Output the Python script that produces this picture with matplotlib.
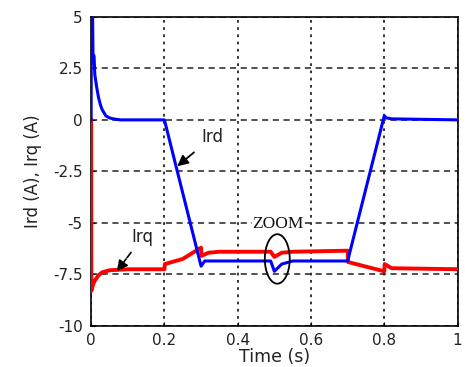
import matplotlib.pyplot as plt
from matplotlib.patches import Ellipse

# Ird (blue) key points
ird_t = [0.0, 0.0005, 0.004, 0.005, 0.008, 0.010, 0.015, 0.020, 0.025, 0.030,
         0.035, 0.040, 0.050, 0.060, 0.080, 0.200, 0.300, 0.310, 0.490, 0.500,
         0.520, 0.550, 0.700, 0.800, 0.805, 0.820, 1.000]
ird_v = [0.0, 5.0, 5.0, 3.2, 3.1, 2.2, 1.6, 1.1, 0.75, 0.5,
         0.35, 0.2, 0.1, 0.05, 0.0, 0.0, -7.1, -6.85, -6.85, -7.35,
         -7.0, -6.85, -6.85, 0.2, 0.1, 0.05, 0.0]

# Irq (red) key points
irq_t = [0.0, 0.0005, 0.005, 0.010, 0.020, 0.030, 0.050, 0.100, 0.200, 0.201,
         0.250, 0.300, 0.301, 0.320, 0.350, 0.490, 0.500, 0.520, 0.550, 0.700,
         0.701, 0.800, 0.801, 0.820, 1.000]
irq_v = [0.0, -8.3, -8.0, -7.8, -7.55, -7.4, -7.3, -7.25, -7.25, -7.0,
         -6.75, -6.2, -6.6, -6.45, -6.4, -6.4, -6.65, -6.45, -6.4, -6.35,
         -6.9, -7.35, -7.0, -7.2, -7.25]

xticks = [0, 0.2, 0.4, 0.6, 0.8, 1]
xtick_labels = ['0', '0.2', '0.4', '0.6', '0.8', '1']
yticks = [-10, -7.5, -5, -2.5, 0, 2.5, 5]
ytick_labels = ['-10', '-7.5', '-5', '-2.5', '0', '2.5', '5']

plt.rcParams['font.family'] = ['DejaVu Sans']

fig = plt.figure(figsize=(4.65, 3.67), dpi=100)
ax = fig.add_axes([0.196, 0.112, 0.788, 0.842])

ax.plot(irq_t, irq_v, color='#ff0000', linewidth=2.8, zorder=3)
ax.plot(ird_t, ird_v, color='#0000ff', linewidth=2.2, zorder=4)

ax.set_xlim(0, 1)
ax.set_ylim(-10, 5)
ax.set_xticks(xticks)
ax.set_xticklabels(xtick_labels)
ax.set_yticks(yticks)
ax.set_yticklabels(ytick_labels)
ax.tick_params(direction='in', length=3, labelsize=11, color='black',
               labelcolor='#222222')
ax.tick_params(axis='y', pad=6)
ax.tick_params(axis='x', pad=5)

# vertical grid dotted, horizontal grid dashed
ax.xaxis.grid(True, linestyle=(0, (1.5, 2.5)), color='#222222', linewidth=1.3)
ax.yaxis.grid(True, linestyle=(0, (4, 3)), color='#222222', linewidth=1.1)
ax.set_axisbelow(True)

for s in ax.spines.values():
    s.set_linewidth(1.2)
    s.set_color('black')

ax.set_xlabel('Time (s)', fontsize=12.5, labelpad=0, color='#222222')
ax.set_ylabel('Ird (A), Irq (A)', fontsize=12, labelpad=8, color='#222222')

# annotations
ax.annotate('Ird', xy=(0.235, -2.25), xytext=(0.30, -0.85), fontsize=12,
            va='center', ha='left', color='#222222',
            arrowprops=dict(arrowstyle='-|>', color='black', lw=1.3,
                            shrinkA=4, shrinkB=0, mutation_scale=16))
ax.annotate('Irq', xy=(0.07, -7.35), xytext=(0.11, -5.7), fontsize=12,
            va='center', ha='left', color='#222222',
            arrowprops=dict(arrowstyle='-|>', color='black', lw=1.2,
                            linestyle=(0, (4, 1)),
                            shrinkA=3, shrinkB=0, mutation_scale=16))
ax.text(0.51, -5.05, 'ZOOM', fontsize=12.5, family='Liberation Serif',
        ha='center', va='center', zorder=6, color='#111111',
        bbox=dict(facecolor='white', edgecolor='none', pad=0.2))
ax.add_patch(Ellipse((0.508, -6.75), 0.068, 2.4, fill=False,
                     edgecolor='black', linewidth=1.3, zorder=6))

fig.savefig('out.png', dpi=100)
